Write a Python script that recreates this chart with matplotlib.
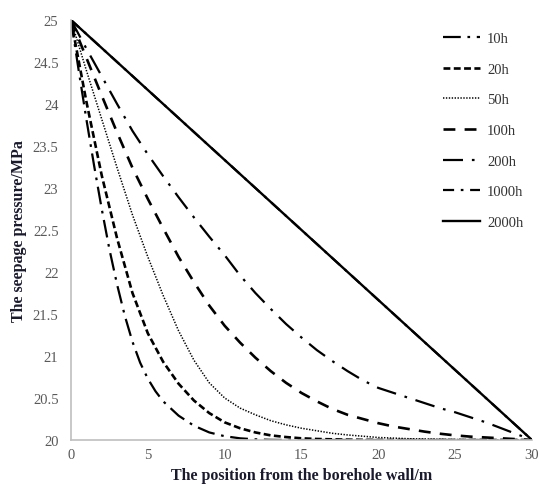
import matplotlib
matplotlib.use("Agg")
import matplotlib.pyplot as plt
from matplotlib.lines import Line2D

# ---- data ----
x_10h = [0, 0.5, 1, 1.5, 2, 2.5, 3, 3.5, 4, 4.5, 5, 5.5, 6, 7, 8, 9, 10, 11, 12, 13, 14, 30]
y_10h = [25, 24.4, 23.82, 23.27, 22.75, 22.27, 21.85, 21.48, 21.17, 20.92, 20.73, 20.58,
         20.46, 20.29, 20.17, 20.09, 20.045, 20.02, 20.008, 20.002, 20.0, 20.0]

x_20h = [0, 1, 2, 3, 4, 5, 6, 7, 8, 9, 10, 11, 12, 13, 14, 15, 16, 18, 20, 30]
y_20h = [25, 24.03, 23.15, 22.4, 21.75, 21.27, 20.93, 20.67, 20.47, 20.32, 20.21, 20.14,
         20.09, 20.055, 20.035, 20.02, 20.012, 20.004, 20.0, 20.0]

x_50h = [0, 1, 2, 3, 4, 5, 6, 7, 8, 9, 10, 11, 12, 13, 14, 15, 16, 17, 18, 19, 20, 22, 25, 30]
y_50h = [25, 24.4, 23.82, 23.24, 22.68, 22.18, 21.72, 21.3, 20.95, 20.68, 20.5, 20.38,
         20.3, 20.23, 20.18, 20.14, 20.11, 20.08, 20.06, 20.045, 20.03, 20.015, 20.005, 20.0]

x_100h = [0, 1, 2, 3, 4, 5, 6, 7, 8, 9, 10, 11, 12, 13, 14, 15, 16, 17, 18, 19, 20,
          21, 22, 23, 24, 25, 26, 27, 28, 29, 30]
y_100h = [25, 24.55, 24.1, 23.66, 23.24, 22.87, 22.52, 22.18, 21.88, 21.6, 21.36, 21.16,
          20.98, 20.82, 20.68, 20.56, 20.46, 20.37, 20.3, 20.25, 20.2, 20.16, 20.13, 20.1,
          20.075, 20.055, 20.04, 20.03, 20.02, 20.01, 20.0]

x_200h = [0, 1, 2, 3, 4, 5, 6, 7, 8, 9, 10, 11, 12, 13, 14, 15, 16, 17, 18, 19, 20,
          21, 22, 23, 24, 25, 26, 27, 28, 29, 30]
y_200h = [25, 24.66, 24.33, 24.0, 23.68, 23.4, 23.14, 22.89, 22.65, 22.42, 22.2, 21.96,
          21.75, 21.56, 21.38, 21.22, 21.07, 20.94, 20.82, 20.71, 20.62, 20.56, 20.5, 20.44,
          20.38, 20.33, 20.27, 20.21, 20.14, 20.07, 20.0]

x_1000h = [0, 30]
y_1000h = [25, 20]

x_2000h = [0, 30]
y_2000h = [25, 20]

labels = ["10h", "20h", "50h", "100h", "200h", "1000h", "2000h"]
xticks = [0, 5, 10, 15, 20, 25, 30]
yticks = [20, 20.5, 21, 21.5, 22, 22.5, 23, 23.5, 24, 24.5, 25]
ytick_labels = ["20", "20.5", "21", "21.5", "22", "22.5", "23", "23.5", "24", "24.5", "25"]

# ---- styles ----
styles = [
    dict(ls=(0, (8, 3, 1.2, 3)), lw=1.6),
    dict(ls=(0, (2.6, 1.3)), lw=1.9),
    dict(ls=(0, (0.9, 1.0)), lw=1.1),
    dict(ls=(0, (4.5, 3.5)), lw=1.9),
    dict(ls=(0, (9, 4, 1.2, 4)), lw=1.6),
    dict(ls=(0, (5, 3, 1.2, 3)), lw=1.6),
    dict(ls="-", lw=1.7),
]
series = [(x_10h, y_10h), (x_20h, y_20h), (x_50h, y_50h), (x_100h, y_100h),
          (x_200h, y_200h), (x_1000h, y_1000h), (x_2000h, y_2000h)]

plt.rcParams["font.family"] = ["Liberation Serif", "DejaVu Serif"]

fig = plt.figure(figsize=(5.39, 4.85), dpi=100)
ax = fig.add_axes([71 / 539, 1 - 441 / 485, (532 - 71) / 539, (441 - 21) / 485])

for (xs, ys), st, lab in zip(series, styles, labels):
    ax.plot(xs, ys, color="black", linestyle=st["ls"], linewidth=st["lw"], label=lab)

ax.set_xlim(0, 30)
ax.set_ylim(20, 25)
ax.set_xticks(xticks)
ax.set_xticklabels([str(t) for t in xticks])
ax.set_yticks(yticks)
ax.set_yticklabels(ytick_labels)
ax.tick_params(length=0, labelsize=10.5, colors="#595959")
ax.tick_params(axis="x", pad=6)
ax.tick_params(axis="y", pad=9)

for s in ["top", "right"]:
    ax.spines[s].set_visible(False)
for s in ["left", "bottom"]:
    ax.spines[s].set_color("#bfbfbf")
    ax.spines[s].set_linewidth(1.2)

ax.set_xlabel("The position from the borehole wall/m", fontsize=11.5, fontweight="bold",
              color="#1a1a2e", labelpad=4)
ax.set_ylabel("The seepage pressure/MPa", fontsize=11.5, fontweight="bold",
              color="#1a1a2e", labelpad=4)

handles = [Line2D([0], [0], color="black", linestyle=st["ls"], linewidth=st["lw"]) for st in styles]
leg = ax.legend(handles, labels, loc="upper right", bbox_to_anchor=(1.0, 0.993),
                frameon=False, fontsize=10.5, handlelength=2.5, handletextpad=0.5,
                labelspacing=1.2, borderaxespad=0.2)
for t in leg.get_texts():
    t.set_color("#333333")

fig.savefig("out.png", dpi=100, facecolor="white")
